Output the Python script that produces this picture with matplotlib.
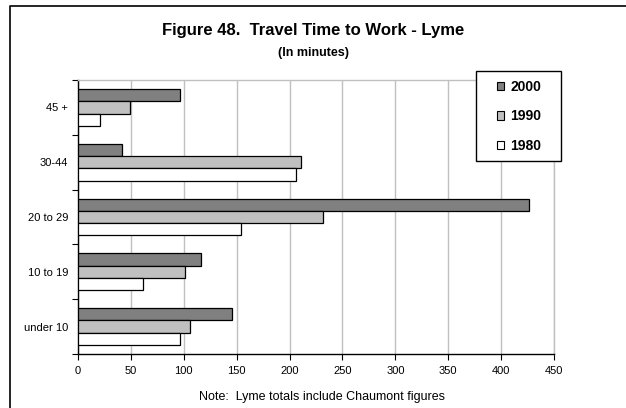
import matplotlib
matplotlib.use("Agg")
import matplotlib.pyplot as plt
import numpy as np
from matplotlib.lines import Line2D
from matplotlib.patches import Patch, Rectangle

categories = ["under 10", "10 to 19", "20 to 29", "30-44", "45 +"]
years = ["2000", "1990", "1980"]
v2000 = [146, 116, 426, 42, 96]
v1990 = [106, 101, 232, 211, 49]
v1980 = [96, 61, 154, 206, 21]
xticks = [0, 50, 100, 150, 200, 250, 300, 350, 400, 450]

colors = ["#808080", "#C0C0C0", "#FFFFFF"]
series = [v2000, v1990, v1980]

plt.rcParams['font.family'] = ['Liberation Sans', 'DejaVu Sans']

fig = plt.figure(figsize=(6.26, 4.08), dpi=100)
W, H = 626, 408
ax = fig.add_axes([78 / W, 1 - 354 / H, (554 - 78) / W, (354 - 80) / H])

y = np.arange(len(categories))
bh = 0.225
offsets = [bh, 0, -bh]
for vals, col, off, lab in zip(series, colors, offsets, years):
    ax.barh(y + off, vals, height=bh, color=col, edgecolor="black",
            linewidth=0.9, label=lab, zorder=3)

ax.set_xlim(0, 450)
ax.set_ylim(-0.5, len(categories) - 0.5)
ax.set_xticks(xticks)
ax.set_xticklabels([str(t) for t in xticks], fontsize=8)
ax.set_yticks(y)
ax.set_yticklabels(categories, fontsize=8)
ax.set_yticks(np.arange(-0.5, len(categories), 1), minor=True)
ax.tick_params(axis="y", which="major", length=0, pad=7)
ax.tick_params(axis="y", which="minor", length=4, width=0.8, direction="out")
ax.tick_params(axis="x", length=4, width=0.8, direction="out", pad=5)

ax.grid(axis="x", color="#C0C0C0", linewidth=1.0, zorder=0)
ax.set_axisbelow(True)
for s in ["top", "right"]:
    ax.spines[s].set_color("#C0C0C0")
    ax.spines[s].set_linewidth(1.0)
for s in ["left", "bottom"]:
    ax.spines[s].set_color("black")
    ax.spines[s].set_linewidth(1.0)

# legend box
fig.add_artist(Rectangle((476 / W, 1 - 161 / H), (561 - 476) / W, (161 - 71) / H,
                         transform=fig.transFigure, facecolor="white",
                         edgecolor="black", linewidth=1.0, zorder=4))
handles = [Patch(facecolor=c, edgecolor="black", linewidth=0.8) for c in colors]
leg = fig.legend(handles, years, loc="center",
                 bbox_to_anchor=(519 / W, 1 - 116.5 / H),
                 bbox_transform=fig.transFigure, frameon=False,
                 prop={"weight": "bold", "size": 10}, handlelength=0.55, handleheight=0.55,
                 handletextpad=0.45, labelspacing=1.1, borderpad=0, borderaxespad=0)
leg.set_zorder(5)

fig.text(313 / W, 1 - 30 / H, "Figure 48.  Travel Time to Work - Lyme",
         ha="center", va="center", fontsize=12, fontweight="bold")
fig.text(313 / W, 1 - 53 / H, "(In minutes)", ha="center", va="center",
         fontsize=9, fontweight="bold")
fig.text(322 / W, 1 - 397 / H, "Note:  Lyme totals include Chaumont figures",
         ha="center", va="center", fontsize=9)

# chart frame
fig.add_artist(Line2D([10 / W, 10 / W, 1.0], [0, 1 - 6 / H, 1 - 6 / H],
                      transform=fig.transFigure, color="black", linewidth=1.2))

fig.savefig("out.png", dpi=100)
